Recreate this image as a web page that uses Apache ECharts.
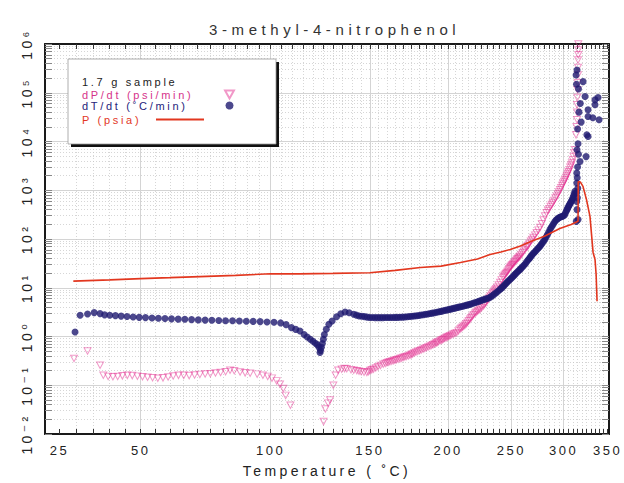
<!DOCTYPE html>
<html><head><meta charset="utf-8">
<script src="https://cdn.jsdelivr.net/npm/echarts@6/dist/echarts.min.js"></script>
<style>
html,body{margin:0;padding:0;background:#fff;}
#c{width:624px;height:483px;}
#c text[style*="15px"]{letter-spacing:4.6px;}
#c text[style*="14px"]{letter-spacing:3.4px;}
#c text[style*="13px"]{letter-spacing:2.5px;}
#c text[style*="11px"]{letter-spacing:2.7px;}
</style></head><body><div id="c"></div>
<script>
// ---- data (temperatures in degC) ----
const xTickLabels = [25, 50, 100, 150, 200, 250, 300, 350];
const yTickLabels = ['10\u207B\u00B2','10\u207B\u00B9','10\u2070','10\u00B9','10\u00B2','10\u00B3','10\u2074','10\u2075','10\u2076'];

const pTemp = [29, 40, 50, 60, 71, 85, 100, 113, 130, 150, 165, 181, 195, 209, 222, 232, 241, 249, 258, 267, 281, 296, 308, 315.5, 315.7, 318, 321, 325, 329, 332.6, 334.9, 336.2, 337.3];
const pVal  = [13.7, 14.5, 15.4, 16.1, 16.9, 17.9, 19.4, 19.3, 19.7, 20.3, 22.7, 26.1, 27.8, 33, 39, 48, 54, 61, 72, 88, 115, 164, 198, 231, 1500, 1480, 1200, 643, 292, 53, 38, 18.8, 5.3];

const dTdtTemp = [29.5,31.0,33.2,35.2,37.0,38.4,40,41.8,43.6,45.5,47.5,49.5,51.6,53.8,56,58.3,60.6,63,65.4,67.9,70.4,73,75.6,78.3,81,83.8,86.6,89.5,92.4,95.4,
  98.4,101.5,104.5,107,109.5,111.5,113.5,115.5,117,118.5,119.8,121,122,122.8,123.3,123.6,124,124.5,125,125.5,126.5,127.8,129.5,131.8,134,136.3,138.5,141,144,147,
  150,153,156,159,162,165,168,171,174,177,180,183,186,189,192,195,198,201,204,207,210,213,216,219,222,225,228,231,234,237,
  240,242.5,244.5,246.5,248.8,251,253.2,255.5,257.7,260,262.5,265,267,269,271.5,274,276.3,278.5,281,283.5,286,288.5,291,293.5,296,298.5,301,303,304.5,306,307.5,309.2,310.8,312.2,
  142.5,145.5,148.5,151.5,154.5,157.5,160.5,163.5,166.5,169.5,172.5,175.5,178.5,181.5,184.5,187.5,190.5,193.5,
  196.5,199.5,202.5,205.5,208.5,211.5,214.5,217.5,220.5,223.5,226.5,229.5,232.5,235.5,238.5,241.2,243.5,245.5,247.6,249.9,252.1,254.3,256.6,258.8,261.2,263.7,266,268,270.2,272.7,
  275.1,277.4,279.7,282.2,284.7,287.2,289.7,292.2,294.7,297.2,299.7,302,303.8,305.3,306.8,308.3,310,311.5,
  313.5,315.5,314.4,314.1,314.8,314.1,315.2,314.1,314.6,314.1,315,317.7,324.6,316,314.4,315.5,326.8,325.4,315,319,339.7,332.3,326.8,316.5,326.8,334.9,318,334.9,323.4,338.5,316,313.8,321.1,313.3,314.4];
const dTdtVal = [1.24,2.72,2.89,3.09,2.95,2.78,2.72,2.68,2.62,2.57,2.52,2.47,2.44,2.40,2.36,2.33,2.30,2.27,2.25,2.22,2.19,2.17,2.15,2.13,2.11,2.10,2.08,2.06,2.04,2.02,
  1.99,1.96,1.90,1.75,1.52,1.40,1.30,1.10,0.98,0.88,0.80,0.73,0.68,0.60,0.47,0.52,0.60,0.72,0.88,1.10,1.41,1.78,2.08,2.54,2.92,3.18,3.06,2.85,2.63,2.56,
  2.46,2.44,2.44,2.45,2.46,2.47,2.48,2.52,2.57,2.63,2.70,2.80,2.90,3.02,3.14,3.28,3.44,3.60,3.78,3.96,4.14,4.35,4.56,4.85,5.15,5.50,5.85,6.15,6.9,7.9,
  9.1,10.3,11.7,13.1,14.8,16.6,18.8,21.2,23.8,27,31,37,42,48,55,63,71,83,98,122,156,190,228,258,280,290,310,380,435,500,560,643,780,950,
  2.74,2.60,2.50,2.45,2.44,2.44,2.45,2.46,2.47,2.50,2.55,2.60,2.66,2.75,2.85,2.96,3.08,3.21,
  3.36,3.52,3.69,3.87,4.05,4.24,4.45,4.70,5.0,5.32,5.68,6.0,6.5,7.4,8.5,9.7,11.0,12.4,13.9,15.7,17.7,20,22.5,25.3,29,34,39.5,45,51.5,59,
  67,77,90,110,138,172,208,245,270,285,300,345,410,470,530,600,710,860,
  230,250,400,590,700,890,1100,1410,1800,2260,3000,3900,4900,5500,6800,9000,12700,13700,18000,25000,27900,30600,32600,40000,44700,56500,60000,71500,83500,80000,120000,150000,169000,232000,294000];

const dPdtTemp = [29.2,33.2,37.0,38.0,39.5,41,42.5,44,45.6,47.2,48.9,50.6,52.3,54,55.8,57.6,59.4,61.2,63.1,65,67,69,71,73,75,77,79,81,82.8,84.5,86.9,89,91.1,94.1,96.6,98.7,100.6,102.7,104.2,105.7,106.8,109,
  125.1,126.0,127.4,128.4,130.1,131.3,132.6,134.5,136,137.2,139.5,141,142.7,145.1,148.3,150.1,152.1,154.7,157.8,160,161.8,164,165.8,168,170,172,174.3,176,178.1,180.5,182.8,185,187.4,189.5,191.5,193,194.3,196,197.8,199.6,
  201.4,203.8,206.2,208.7,210.5,212.4,214.3,216.2,218,220.1,222,224,226.6,228.5,230.4,232.5,234.6,236.2,237.8,240.3,242.8,244.3,245.9,247.4,248.8,250.2,251.5,253.1,254.7,256.2,257.7,260,262.2,263.6,265,267.5,269.9,
  273,276.3,279.5,282.6,285.2,287.8,290.3,292.8,295,297.3,299.4,301.5,303.4,305.2,307,308.8,310.5,312.2,313.3,313.8,314.4,314.4,314.4,314.7,314.9,315.2,315.5,315.5,315.5,315.8,315.8,315.8,
  143.9,146.7,149.2,151.1,153.4,156.2,159,160.9,162.9,164.9,166.9,169,171,173.2,175.2,177,179.3,181.6,183.9,186.2,188.5,190.5,192.2,195.2,196.9,
  198.8,200.5,202.6,205,207.5,209.6,211.5,213.3,215.2,217.1,219,221,223,225.3,227.5,229.5,231.5,233.5,235.4,237,239,241.5,243.5,245.1,246.6,248.1,249.5,250.9,252.3,253.9,255.5,257,258.8,
  261,264.3,266.2,268.7,271.5,274.6,278,281,284,286.5,289,291.5,294,296.2,298.4,300.5,302.5,304.3,306.1,307.9,309.7,311.4];
const dPdtVal = [0.354,0.506,0.258,0.161,0.152,0.150,0.151,0.156,0.160,0.158,0.154,0.150,0.146,0.143,0.139,0.142,0.148,0.155,0.160,0.160,0.158,0.162,0.167,0.170,0.173,0.178,0.183,0.190,0.204,0.198,0.187,0.180,0.176,0.169,0.161,0.152,0.140,0.123,0.105,0.086,0.062,0.039,
  0.018,0.0325,0.043,0.050,0.10,0.161,0.204,0.214,0.22,0.219,0.209,0.204,0.199,0.19,0.183,0.2,0.214,0.24,0.27,0.29,0.304,0.32,0.334,0.352,0.371,0.39,0.413,0.44,0.476,0.51,0.548,0.59,0.631,0.68,0.727,0.77,0.811,0.86,0.92,0.98,
  1.04,1.12,1.2,1.41,1.55,1.70,1.95,2.25,2.6,2.99,3.3,3.61,4.22,4.9,5.78,6.8,7.93,9.0,10.2,12.8,16.3,18.3,20.3,23,26.1,28.5,30.8,34,38,41,44.5,52,61,67,73.6,90,107,
  135,172,245,344,420,508,620,751,920,1130,1380,1650,2000,2400,2950,3620,4900,6770,13700,20000,27900,40000,56500,80000,115000,160000,232000,330000,471000,600000,753000,1000000,
  0.195,0.186,0.19,0.207,0.226,0.255,0.28,0.297,0.312,0.327,0.343,0.36,0.38,0.40,0.426,0.458,0.493,0.53,0.57,0.61,0.655,0.703,0.75,0.835,0.89,
  0.95,1.0,1.08,1.16,1.3,1.48,1.62,1.82,2.1,2.42,2.8,3.15,3.45,3.9,4.55,5.35,6.3,7.35,8.45,9.6,11.4,14.5,17.3,19.3,21.6,24.5,27.3,29.6,32.4,36,39.5,42.8,48,
  56,70,81,98,120,152,205,295,385,465,560,690,840,1020,1250,1510,1820,2200,2650,3250,4200,5800];

// ---- helpers ----
const invK = t => 1000 / (t + 273.15);   // reciprocal-temperature scale used by the x axis
const toPairs = (ts, vs) => ts.map((t, i) => [invK(t), vs[i]]);

const minorT = []; for (let t = 25; t <= 350; t += 5) minorT.push(invK(t));
const majorT = xTickLabels.map(invK);
const yMajor = []; const yMinor = [];
for (let d = -2; d <= 6; d++) { yMajor.push(d); yMinor.push(d); if (d < 6) for (let k = 2; k <= 9; k++) yMinor.push(d + Math.log10(k)); }

const FONT = '"Liberation Sans", "DejaVu Sans", Arial, sans-serif';
const chart = echarts.init(document.getElementById('c'), null, {renderer: 'svg'});

const baseX = {type: 'value', min: 1.6, max: 3.4, inverse: true, gridIndex: 0};
const baseYlin = {type: 'value', min: -2, max: 6, gridIndex: 0};

chart.setOption({
  animation: false,
  backgroundColor: '#ffffff',
  title: {text: '3-methyl-4-nitrophenol', left: 204, top: 17,
    textStyle: {fontSize: 15, fontWeight: 'normal', color: '#333', fontFamily: FONT}},
  grid: {left: 45, right: 15, top: 44, bottom: 48},
  graphic: [
    {type: 'rect', z: 20, shape: {x: 71, y: 62, width: 208, height: 85}, style: {fill: '#111'}},
    {type: 'rect', z: 21, shape: {x: 68, y: 59, width: 208, height: 85}, style: {fill: '#fff', stroke: '#999', lineWidth: 0.8}},
    {type: 'text', z: 22, x: 82, y: 82, style: {text: '1.7 g sample', fontSize: 11, fontFamily: FONT, fill: '#222', verticalAlign: 'middle'}}
  ],
  legend: [
    {z: 30, left: 82, top: 89, padding: 0, orient: 'vertical', align: 'right', itemGap: 0, itemWidth: 9, itemHeight: 8,
     data: ['dP/dt (psi/min)', 'dT/dt (\u02DAC/min)'],
     formatter: n => (n.indexOf('dP') === 0 ? '{p|' : '{t|') + n + '}',
     textStyle: {rich: {
       p: {width: 138, align: 'left', fontSize: 11, lineHeight: 12.6, fontFamily: FONT, color: '#d6338a'},
       t: {width: 138, align: 'left', fontSize: 11, lineHeight: 12.6, fontFamily: FONT, color: '#25237a'}}}},
    {z: 30, left: 82, top: 114, padding: 0, orient: 'vertical', align: 'right', itemWidth: 48, itemHeight: 2,
     data: [{name: 'P (psia)', icon: 'rect', itemStyle: {color: '#e2371f'}}],
     formatter: n => '{r|' + n + '}',
     textStyle: {rich: {r: {width: 69, align: 'left', fontSize: 11, lineHeight: 12.6, fontFamily: FONT, color: '#e2371f'}}}}
  ],
  xAxis: [
    Object.assign({}, baseX, {position: 'bottom',
      name: 'Temperature ( \u02DAC)', nameLocation: 'middle', nameGap: 30,
      nameTextStyle: {fontSize: 14, color: '#222', fontFamily: FONT},
      axisLine: {show: true, onZero: false, lineStyle: {color: '#1a1a1a', width: 2}},
      axisTick: {show: true, inside: true, length: 5, customValues: minorT, lineStyle: {color: '#333', width: 1}},
      axisLabel: {customValues: majorT, formatter: v => String(Math.round(1000 / v - 273.15)), fontSize: 13, color: '#222', fontFamily: FONT, margin: 10},
      splitLine: {show: true, showMinLine: false, showMaxLine: false, lineStyle: {color: '#c4c4c4', width: 0.7, type: [1, 2]}}}),
    Object.assign({}, baseX, {position: 'top',
      axisLine: {show: true, onZero: false, lineStyle: {color: '#1a1a1a', width: 2}},
      axisTick: {show: true, inside: true, length: 5, customValues: minorT, lineStyle: {color: '#333', width: 1}},
      axisLabel: {show: false}, splitLine: {show: false}}),
    Object.assign({}, baseX, {position: 'bottom',
      axisLine: {show: false, onZero: false}, axisLabel: {show: false},
      axisTick: {show: false, customValues: majorT},
      splitLine: {show: true, showMinLine: false, showMaxLine: false, lineStyle: {color: '#d4d4d4', width: 1}}})
  ],
  yAxis: [
    {type: 'log', logBase: 10, min: 0.01, max: 1e6, gridIndex: 0, position: 'left',
     axisLine: {show: false, onZero: false}, axisTick: {show: false}, axisLabel: {show: false}, splitLine: {show: false}},
    Object.assign({}, baseYlin, {position: 'left',
      axisLine: {show: true, onZero: false, lineStyle: {color: '#1a1a1a', width: 2}},
      axisTick: {show: true, inside: true, length: 7, customValues: yMinor, lineStyle: {color: '#888', width: 1}},
      axisLabel: {customValues: yMajor, formatter: v => yTickLabels[Math.round(v) + 2], rotate: 90, margin: 11, fontSize: 14, color: '#222', fontFamily: FONT},
      splitLine: {show: true, showMinLine: false, showMaxLine: false, lineStyle: {color: '#c4c4c4', width: 0.7, type: [1, 2]}}}),
    Object.assign({}, baseYlin, {position: 'right',
      axisLine: {show: true, onZero: false, lineStyle: {color: '#1a1a1a', width: 2}},
      axisTick: {show: true, inside: true, length: 7, customValues: yMinor, lineStyle: {color: '#888', width: 1}},
      axisLabel: {show: false}, splitLine: {show: false}}),
    Object.assign({}, baseYlin, {position: 'left',
      axisLine: {show: false, onZero: false}, axisLabel: {show: false},
      axisTick: {show: false, customValues: yMajor},
      splitLine: {show: true, showMinLine: false, showMaxLine: false, lineStyle: {color: '#d4d4d4', width: 1}}})
  ],
  series: [
    {type: 'scatter', name: 'dP/dt (psi/min)', xAxisIndex: 0, yAxisIndex: 0, z: 2,
     symbol: 'path://M0,0L10,0L5,9Z', symbolSize: [7, 6.5],
     itemStyle: {color: 'rgba(255,255,255,0)', borderColor: 'rgba(226,40,140,0.6)', borderWidth: 1},
     data: toPairs(dPdtTemp, dPdtVal)},
    {type: 'scatter', name: 'dT/dt (\u02DAC/min)', xAxisIndex: 0, yAxisIndex: 0, z: 3,
     symbol: 'circle', symbolSize: 7, itemStyle: {color: '#1f1a70'},
     data: toPairs(dTdtTemp, dTdtVal)},
    {type: 'line', name: 'P (psia)', xAxisIndex: 0, yAxisIndex: 0, z: 4,
     showSymbol: false, symbol: 'none',
     lineStyle: {color: '#e2371f', width: 1.6}, itemStyle: {color: '#e2371f'},
     data: toPairs(pTemp, pVal)}
  ]
});
</script></body></html>
